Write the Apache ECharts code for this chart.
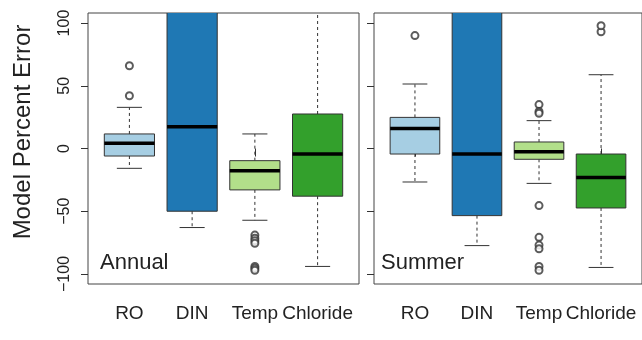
<!DOCTYPE html>
<html>
<head>
<meta charset="utf-8">
<script src="https://cdn.jsdelivr.net/npm/echarts@6/dist/echarts.min.js"></script>
<style>
  html, body { margin: 0; padding: 0; background: #fff; }
  #chart { width: 642px; height: 340px; }
</style>
</head>
<body>
<div id="chart"></div>
<script>
// categories and tick labels
const categories = ['RO', 'DIN', 'Temp', 'Chloride'];
const yTicks = [-100, -50, 0, 50, 100];
const boxColors = ['#a6cee3', '#1f78b4', '#b2df8a', '#33a02c'];

// box stats per category: [low whisker, q1, median, q3, high whisker]
// (values above 108 run off the top of the panel)
const annualBoxes = [
  [-15.8, -6, 4.1, 11.6, 32.8],
  [-63, -50, 17.4, 140, 160],
  [-57.2, -33, -17.7, -9.7, 11.6],
  [-94, -38, -4.4, 27.5, 130]
];
const annualOutliers = [
  [42, 66],
  [],
  [-69, -71.5, -73.5, -75.5, -94, -95.5, -97],
  []
];

const summerBoxes = [
  [-26.7, -4.4, 16, 24.8, 51.4],
  [-77.4, -53.5, -4.4, 140, 160],
  [-27.8, -8.6, -2.5, 5.2, 22.2],
  [-94.8, -47.4, -23.2, -4.4, 58.8]
];
const summerOutliers = [
  [90],
  [],
  [35, 29.5, 28, -45.5, -70.8, -77, -80, -94, -97],
  [93.1, 97.9]
];

const FONT = 'Liberation Sans, Arial, sans-serif';
const INK = '#333';

var chart = echarts.init(document.getElementById('chart'));

function boxData(boxes) {
  return boxes.map((b, i) => [i + 1].concat(b));
}
function outlierData(outs) {
  let ret = [];
  outs.forEach((list, i) => {
    list.forEach(v => ret.push([i + 1, v]));
  });
  return ret;
}

function renderBox(params, api) {
  const x = api.value(0);
  const low = api.value(1), q1 = api.value(2), med = api.value(3), q3 = api.value(4), high = api.value(5);
  const half = 0.4, staple = 0.2;
  const pTL = api.coord([x - half, q3]);
  const pBR = api.coord([x + half, q1]);
  const pHigh = api.coord([x, high]);
  const pLow = api.coord([x, low]);
  const pQ3 = api.coord([x, q3]);
  const pQ1 = api.coord([x, q1]);
  const sL = api.coord([x - staple, 0])[0];
  const sR = api.coord([x + staple, 0])[0];
  const mL = api.coord([x - half, med]);
  const mR = api.coord([x + half, med]);
  const dash = { stroke: INK, lineWidth: 1, lineDash: [3, 3] };
  const solid = { stroke: INK, lineWidth: 1 };
  return {
    type: 'group',
    children: [
      { type: 'line', shape: { x1: pQ3[0], y1: pQ3[1], x2: pHigh[0], y2: pHigh[1] }, style: dash },
      { type: 'line', shape: { x1: pQ1[0], y1: pQ1[1], x2: pLow[0], y2: pLow[1] }, style: dash },
      { type: 'line', shape: { x1: sL, y1: pHigh[1], x2: sR, y2: pHigh[1] }, style: solid },
      { type: 'line', shape: { x1: sL, y1: pLow[1], x2: sR, y2: pLow[1] }, style: solid },
      { type: 'rect', shape: { x: pTL[0], y: pTL[1], width: pBR[0] - pTL[0], height: pBR[1] - pTL[1] },
        style: { fill: boxColors[params.dataIndex], stroke: INK, lineWidth: 1 } },
      { type: 'line', shape: { x1: mL[0], y1: mL[1], x2: mR[0], y2: mR[1] }, style: { stroke: '#000', lineWidth: 3.5 } }
    ]
  };
}

function xAxisFor(gridIndex) {
  return {
    type: 'value', gridIndex: gridIndex, min: 0.34, max: 4.66,
    axisLine: { show: false },
    splitLine: { show: false },
    axisTick: { show: true, customValues: [1, 2, 3, 4], length: 8, lineStyle: { color: INK } },
    axisLabel: {
      customValues: [1, 2, 3, 4], margin: 20,
      color: '#222', fontSize: 19, fontFamily: FONT,
      formatter: v => categories[Math.round(v) - 1]
    }
  };
}
function yAxisFor(gridIndex, showLabels) {
  return {
    type: 'value', gridIndex: gridIndex, min: -108, max: 108,
    axisLine: { show: false },
    splitLine: { show: false },
    axisTick: { show: true, customValues: yTicks, length: 7, lineStyle: { color: INK } },
    axisLabel: {
      show: showLabels, customValues: yTicks, rotate: 90, margin: 15,
      color: '#222', fontSize: 16, fontFamily: FONT,
      formatter: v => String(v).replace('-', '\u2212')
    }
  };
}

const option = {
  animation: false,
  backgroundColor: '#fff',
  grid: [
    { left: 88, top: 13, width: 271, height: 271, show: true, borderColor: '#444', borderWidth: 1 },
    { left: 374, top: 13, width: 271, height: 271, show: true, borderColor: '#444', borderWidth: 1 }
  ],
  xAxis: [xAxisFor(0), xAxisFor(1)],
  yAxis: [yAxisFor(0, true), yAxisFor(1, false)],
  graphic: [
    { type: 'text', x: 23, y: 132, rotation: Math.PI / 2,
      style: { text: 'Model Percent Error', fill: '#222', font: '24px ' + FONT, textAlign: 'center', textVerticalAlign: 'middle' } },
    { type: 'text', x: 100, y: 263,
      style: { text: 'Annual', fill: '#222', font: '22px ' + FONT, textAlign: 'left', textVerticalAlign: 'middle' } },
    { type: 'text', x: 381, y: 263,
      style: { text: 'Summer', fill: '#222', font: '22px ' + FONT, textAlign: 'left', textVerticalAlign: 'middle' } }
  ],
  series: [
    { name: 'Annual', type: 'custom', xAxisIndex: 0, yAxisIndex: 0, clip: true,
      renderItem: renderBox, data: boxData(annualBoxes) },
    { name: 'Summer', type: 'custom', xAxisIndex: 1, yAxisIndex: 1, clip: true,
      renderItem: renderBox, data: boxData(summerBoxes) },
    { name: 'Annual outliers', type: 'scatter', xAxisIndex: 0, yAxisIndex: 0,
      symbol: 'emptyCircle', symbolSize: 7,
      itemStyle: { color: INK, borderColor: INK, borderWidth: 1 },
      data: outlierData(annualOutliers) },
    { name: 'Summer outliers', type: 'scatter', xAxisIndex: 1, yAxisIndex: 1,
      symbol: 'emptyCircle', symbolSize: 7,
      itemStyle: { color: INK, borderColor: INK, borderWidth: 1 },
      data: outlierData(summerOutliers) }
  ]
};
chart.setOption(option);
window.addEventListener('resize', function () {
  chart.resize();
});
</script>
</body>
</html>
